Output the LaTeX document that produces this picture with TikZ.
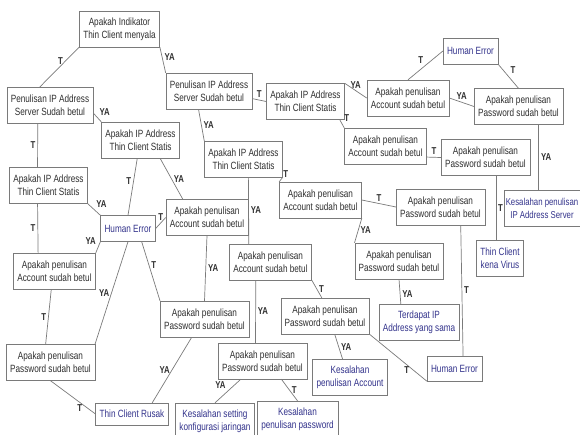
\documentclass[tikz,border=0pt]{standalone}
\usepackage{fontspec}
\setmainfont{Liberation Sans}[FakeStretch=0.78]
\definecolor{lnclr}{HTML}{7A7A7A}
\definecolor{txclr}{HTML}{303030}
\definecolor{endclr}{HTML}{34348C}
\begin{document}
\begin{tikzpicture}[x=1pt,y=-1pt,
	box/.style={draw=lnclr,fill=white,align=center,inner xsep=4pt,minimum height=36pt,text=txclr,font=\fontsize{10.5}{13}\selectfont},
	endbox/.style={box,text=endclr},
	lbl/.style={font=\fontsize{10}{12}\selectfont\bfseries,text=txclr,inner sep=2pt},
	ln/.style={draw=lnclr,line width=0.7pt}]
		\useasboundingbox (0,0) rectangle (580,434);
		% kotak pertanyaan
		\node[box] (ind) at (119.5,29) {Apakah Indikator\\Thin Client menyala};
		\node[box] (srvL) at (50,105.5) {Penulisan IP Address\\Server Sudah betul};
		\node[box] (srvM) at (209,91) {Penulisan IP Address\\Server Sudah betul};
		\node[box] (ipA) at (305.5,101.5) {Apakah IP Address\\Thin Client Statis};
		\node[box] (ipB) at (140.5,140) {Apakah IP Address\\Thin Client Statis};
		\node[box] (accA) at (408,98) {Apakah penulisan\\Account sudah betul};
		\node[box] (pwA) at (518.5,106.5) {Apakah penulisan\\Password sudah betul};
		\node[box] (accB) at (385.5,146) {Apakah penulisan\\Account sudah betul};
		\node[box] (pwB) at (485.5,157.5) {Apakah penulisan\\Password sudah betul};
		\node[box] (ipC) at (48.5,185.5) {Apakah IP Address\\Thin Client Statis};
		\node[box] (accC) at (207,217.5) {Apakah penulisan\\Account sudah betul};
		\node[box] (ipD) at (243.5,159) {Apakah IP Address\\Thin Client Statis};
		\node[box] (accD) at (320.5,200) {Apakah penulisan\\Account sudah betul};
		\node[box] (pwC) at (440.5,207) {Apakah penulisan\\Password sudah betul};
		\node[box] (pwD) at (399,261) {Apakah penulisan\\Password sudah betul};
		\node[box] (accE) at (54.5,271) {Apakah penulisan\\Account sudah betul};
		\node[box] (accF) at (270.5,262) {Apakah penulisan\\Account sudah betul};
		\node[box] (pwE) at (204.5,319) {Apakah penulisan\\Password sudah betul};
		\node[box] (pwF) at (325,316) {Apakah penulisan\\Password sudah betul};
		\node[box] (pwG) at (50.5,362.5) {Apakah penulisan\\Password sudah betul};
		\node[box] (pwH) at (262.5,361) {Apakah penulisan\\Password sudah betul};
		% kotak hasil
		\node[endbox,minimum height=26pt] (heA) at (470.5,51) {Human Error};
		\node[endbox,minimum height=26pt] (heB) at (128,228.5) {Human Error};
		\node[endbox,minimum height=25pt] (heC) at (454.5,368.5) {Human Error};
		\node[endbox,inner xsep=1.5pt,font=\fontsize{10}{13}\selectfont] (errSrv) at (542,208.5) {Kesalahan penulisan\\IP Address Server};
		\node[endbox] (virus) at (500,258.5) {Thin Client\\kena Virus};
		\node[endbox,minimum height=22pt] (rusak) at (132,414) {Thin Client Rusak};
		\node[endbox] (errNet) at (215,421) {Kesalahan setting\\konfigurasi jaringan};
		\node[endbox] (errPw) at (297.5,419) {Kesalahan\\penulisan password};
		\node[endbox] (errAcc) at (350,377.5) {Kesalahan\\penulisan Account};
		\node[endbox] (sama) at (419,322) {Terdapat IP\\Address yang sama};
		% garis
		\draw[ln] (ind.south west) -- (srvL.120) node[lbl,pos=.35,left] {T};
		\draw[ln] (ind.south east) -- (srvM.north west) node[lbl,pos=.4,right] {YA};
		\draw[ln] (srvL.-10) -- (ipB.north west) node[lbl,midway,above right] {YA};
		\draw[ln] (srvL.236) -- (ipC.121) node[lbl,midway,left] {T};
		\draw[ln] (srvM.-10) -- (ipA.west) node[lbl,midway,above] {T};
		\draw[ln] (srvM.240) -- (ipD.north west) node[lbl,midway,right] {YA};
		\draw[ln] (ipA.north east) -- (accA.west) node[lbl,midway,above] {YA};
		\draw[ln] (ipA.-28) -- (accB.north west) node[lbl,midway,above right] {T};
		\draw[ln] (accA.north) -- (heA.west) node[lbl,midway,above left] {T};
		\draw[ln] (accA.east) -- (pwA.west) node[lbl,midway,above] {YA};
		\draw[ln] (heA.south east) -- (pwA.north) node[lbl,midway,above right] {T};
		\draw[ln] (pwA.-42) -- (pwA.-42 |- errSrv.north) node[lbl,midway,right] {YA};
		\draw[ln] (accB.-15) -- (pwB.west) node[lbl,midway,above] {T};
		\draw[ln] (virus.100 |- pwB.south) -- (virus.100) node[lbl,midway,right,inner sep=1pt] {T};
		\draw[ln] (ipB.-100) -- (heB.north) node[lbl,pos=.4,left] {T};
		\draw[ln] (ipB.-43) -- (accC.143) node[lbl,midway,right] {YA};
		\draw[ln] (ipC.south east) -- (heB.north west) node[lbl,midway,above right] {YA};
		\draw[ln] (ipC.239) -- (accE.132) node[lbl,midway,left] {T};
		\draw[ln] (heB.south west) -- (accE.north east) node[lbl,midway,above left] {YA};
		\draw[ln] (heB.south) -- (pwG.north east) node[lbl,midway,left] {YA};
		\draw[ln] (heB.-44) -- (pwE.north west) node[lbl,pos=.4,right] {T};
		\draw[ln] (heB.east) -- (accC.west) node[lbl,midway,above] {T};
		\draw[ln] (accC.south) -- (pwE.north) node[lbl,midway,right] {YA};
		\draw[ln] (ipD.-75) -- (accF.140) node[lbl,midway,right] {YA};
		\draw[ln] (ipD.south east) -- (accD.north west) node[lbl,midway,above right] {T};
		\draw[ln] (accD.east) -- (pwC.west) node[lbl,midway,above] {T};
		\draw[ln] (accD.south east) -- (pwD.north west) node[lbl,midway,right] {YA};
		\draw[ln] (pwC.-42) -- (heC.56) node[lbl,midway,right] {T};
		\draw[ln] (pwD.south) -- (sama.135) node[lbl,pos=.6,right] {YA};
		\draw[ln] (accE.-100) -- (pwG.105) node[lbl,midway,left] {T};
		\draw[ln] (pwG.south) -- (rusak.west) node[lbl,pos=.65,below] {T};
		\draw[ln] (pwE.235) -- (rusak.29) node[lbl,midway,left] {YA};
		\draw[ln] (accF.231) -- (pwH.111) node[lbl,midway,right] {YA};
		\draw[ln] (accF.south east) -- (pwF.100) node[lbl,midway,right] {T};
		\draw[ln] (pwF.-62) -- (errAcc.112) node[lbl,midway,right] {YA};
		\draw[ln] (pwF.south east) -- (heC.south west) node[lbl,pos=.65,below] {T};
		\draw[ln] (pwH.220) -- (errNet.north) node[lbl,midway,above left] {YA};
		\draw[ln] (pwH.-44) -- (errPw.north) node[lbl,midway,right] {T};
\end{tikzpicture}
\end{document}
